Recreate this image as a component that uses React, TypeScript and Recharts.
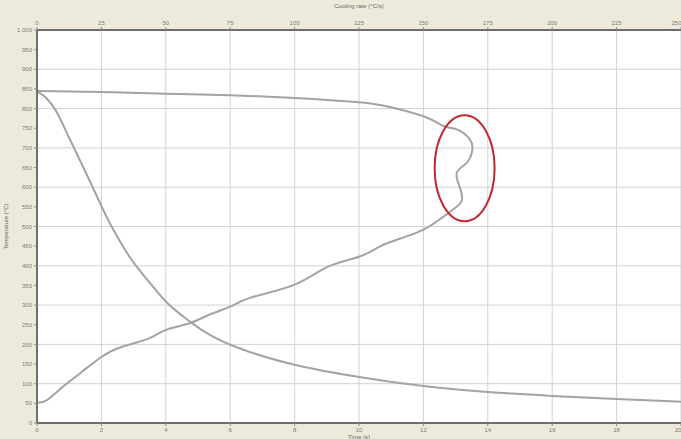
import React from "react";
import {
  CartesianGrid,
  Line,
  LineChart,
  ReferenceDot,
  XAxis,
  YAxis,
} from "recharts";

// temperature vs time (bottom axis)
const timeS = [0, 0.25, 0.56, 1.02, 1.65, 2.27, 2.58, 2.89, 3.42, 4.0, 4.75, 5.37, 6.0, 6.6, 8, 10, 12, 14, 16, 18, 20];
const tempByTime = [844, 830, 798, 722, 614, 507, 462, 421, 365, 309, 258, 224, 199, 181, 148, 117, 94, 79, 69, 61, 54];

// temperature vs cooling rate (top axis), in drawing order
const coolingRate = [0, 25, 50, 75, 100, 125, 137, 151, 158, 163, 168, 169, 167, 163, 164, 165, 163, 158, 150, 140, 133, 125, 113, 100, 83, 75, 67, 59, 50, 43, 33, 25, 17, 10, 4, 0];
const tempByRate = [845, 842, 838, 834, 827, 816, 804, 778, 755, 747, 722, 696, 663, 638, 602, 569, 551, 526, 492, 467, 449, 423, 398, 352, 319, 296, 276, 253, 237, 214, 194, 168, 128, 92, 59, 51];

const timeTicks = [0, 2, 4, 6, 8, 10, 12, 14, 16, 18, 20];
const rateTicks = [0, 25, 50, 75, 100, 125, 150, 175, 200, 225, 250];
const tempTicks = [0, 50, 100, 150, 200, 250, 300, 350, 400, 450, 500, 550, 600, 650, 700, 750, 800, 850, 900, 950, 1000];

// highlighted zone (red ellipse), in rate / temperature units
const markRate = 166;
const markTemp = 648;

const timeData = timeS.map((t, i) => ({ t, temp: tempByTime[i] }));
const rateData = coolingRate.map((rate, i) => ({ rate, temp: tempByRate[i] }));

const tickStyle = { fontSize: 6, fill: "#7a7a7a", fontFamily: "Arial" };
const axisLine = { stroke: "#6e6e6e", strokeWidth: 2 };
const curve = "#a3a3a3";

const fmtTemp = (v: number) => (v === 1000 ? "1 000" : String(v));

export default function App() {
  return (
    <div
      style={{
        position: "fixed",
        left: 0,
        top: 0,
        width: 681,
        height: 439,
        background: "#eeeadb",
        fontFamily: "Arial",
      }}
    >
      <LineChart width={681} height={439} margin={{ top: 0, right: 0, bottom: 0, left: 0 }}>
        <CartesianGrid
          xAxisId="time"
          yAxisId="temp"
          fill="#ffffff"
          stroke="#d2d2d2"
          strokeWidth={1}
        />
        <XAxis
          xAxisId="time"
          dataKey="t"
          type="number"
          orientation="bottom"
          domain={[0, 20]}
          ticks={timeTicks}
          height={16}
          tick={tickStyle}
          tickSize={3}
          axisLine={axisLine}
          tickLine={{ stroke: "#888" }}
          label={{ value: "Time (s)", position: "insideBottom", offset: 0, style: { fontSize: 6, fill: "#666" } }}
        />
        <XAxis
          xAxisId="rate"
          dataKey="rate"
          type="number"
          orientation="top"
          domain={[0, 250]}
          ticks={rateTicks}
          height={30}
          tick={tickStyle}
          tickSize={3}
          axisLine={axisLine}
          tickLine={{ stroke: "#888" }}
          label={{ value: "Cooling rate (°C/s)", position: "insideTop", offset: 4, style: { fontSize: 6, fill: "#666" } }}
        />
        <YAxis
          yAxisId="temp"
          type="number"
          domain={[0, 1000]}
          ticks={tempTicks}
          width={37}
          tick={tickStyle}
          tickSize={3}
          tickFormatter={fmtTemp}
          axisLine={axisLine}
          tickLine={{ stroke: "#888" }}
          label={{ value: "Temperature (°C)", angle: -90, position: "insideLeft", offset: 6, style: { fontSize: 6, fill: "#666", textAnchor: "middle" } }}
        />
        <Line
          xAxisId="time"
          yAxisId="temp"
          data={timeData}
          dataKey="temp"
          type="monotone"
          stroke={curve}
          strokeWidth={2}
          dot={false}
          isAnimationActive={false}
        />
        <Line
          xAxisId="rate"
          yAxisId="temp"
          data={rateData}
          dataKey="temp"
          type="natural"
          stroke={curve}
          strokeWidth={2}
          dot={false}
          isAnimationActive={false}
        />
        <ReferenceDot
          xAxisId="rate"
          yAxisId="temp"
          x={markRate}
          y={markTemp}
          ifOverflow="visible"
          shape={(p: any) => (
            <ellipse cx={p.cx} cy={p.cy} rx={30} ry={53} fill="none" stroke="#c4262e" strokeWidth={2} />
          )}
        />
      </LineChart>
    </div>
  );
}
